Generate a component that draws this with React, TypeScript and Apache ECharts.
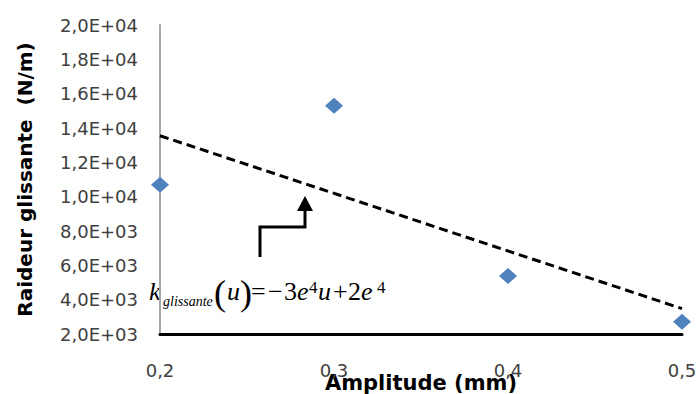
import React, { useEffect, useRef } from "react";
import * as echarts from "echarts";

// Data
const amplitudes = [0.2, 0.3, 0.4, 0.5];
const stiffness = [10700, 15300, 5380, 2720];
const trendX = [0.2, 0.5];
const trendY = [13550, 3480];

const yMin = 2000;
const yMax = 20000;
const yStep = 2000;
const xMin = 0.2;
const xMax = 0.5;
const xStep = 0.1;

const xTitle = "Amplitude (mm)";
const yTitle = "Raideur glissante  (N/m)";

function sci(v: number): string {
  const e = Math.floor(Math.log10(v) + 1e-9);
  const m = v / Math.pow(10, e);
  return m.toFixed(1).replace(".", ",") + "E+" + String(e).padStart(2, "0");
}

const SERIF = "'Liberation Serif', 'Times New Roman', serif";

export default function App() {
  const ref = useRef<HTMLDivElement>(null);
  useEffect(() => {
    if (!ref.current) return;
    const chart = echarts.init(ref.current, null, { renderer: "svg" });
    // formula pieces: x = left edge, b = baseline, s = font size, it = italic
    const formula = [
      { t: "k", x: 149, b: 300.7, s: 26, it: true },
      { t: "glissante", x: 163, b: 306.7, s: 14, it: true },
      { t: "(", x: 214, b: 305.5, s: 36, it: false },
      { t: "u", x: 227, b: 300.7, s: 26, it: true },
      { t: ")", x: 240, b: 305.5, s: 36, it: false },
      { t: "=", x: 251, b: 300.7, s: 26, it: false },
      { t: "\u2212", x: 268, b: 300.7, s: 26, it: false },
      { t: "3", x: 284, b: 300.7, s: 26, it: false },
      { t: "e", x: 297, b: 300.7, s: 26, it: true },
      { t: "4", x: 309, b: 293, s: 17, it: false },
      { t: "u", x: 318, b: 300.7, s: 26, it: true },
      { t: "+", x: 333, b: 300.7, s: 26, it: false },
      { t: "2", x: 348, b: 300.7, s: 26, it: false },
      { t: "e", x: 361, b: 300.7, s: 26, it: true },
      { t: "4", x: 377, b: 293, s: 17, it: false },
    ];
    chart.setOption({
      animation: false,
      backgroundColor: "#ffffff",
      grid: {
        left: 160,
        right: 15,
        top: 25,
        bottom: 60,
        outerBoundsMode: "none",
        containLabel: false,
      },
      xAxis: {
        type: "value",
        min: xMin,
        max: xMax,
        interval: xStep,
        name: xTitle,
        nameLocation: "middle",
        nameGap: 38,
        nameMoveOverlap: false,
        nameTextStyle: {
          fontFamily: "DejaVu Sans",
          fontWeight: "bold",
          fontSize: 21,
          color: "#000",
        },
        axisLine: { show: true, lineStyle: { color: "#000", width: 3 } },
        axisTick: { show: false },
        splitLine: { show: false },
        axisLabel: {
          margin: 27,
          fontFamily: "DejaVu Sans",
          fontSize: 18,
          color: "#404040",
          formatter: (v: number) => v.toFixed(1).replace(".", ","),
        },
      },
      yAxis: {
        type: "value",
        min: yMin,
        max: yMax,
        interval: yStep,
        name: yTitle,
        nameLocation: "middle",
        nameGap: 125,
        nameMoveOverlap: false,
        nameTextStyle: {
          fontFamily: "DejaVu Sans",
          fontWeight: "bold",
          fontSize: 20,
          color: "#000",
        },
        axisLine: { show: true, lineStyle: { color: "#a6a6a6", width: 2 } },
        axisTick: { show: false },
        splitLine: { show: false },
        axisLabel: {
          margin: 22,
          fontFamily: "DejaVu Sans",
          fontSize: 18,
          color: "#404040",
          formatter: (v: number) => sci(v),
        },
      },
      series: [
        {
          type: "line",
          data: trendX.map((x, i) => [x, trendY[i]]),
          symbol: "none",
          lineStyle: { color: "#000", width: 3, type: [9, 5] },
          z: 2,
        },
        {
          type: "scatter",
          data: amplitudes.map((x, i) => [x, stiffness[i]]),
          symbol: "diamond",
          symbolSize: [18, 16],
          itemStyle: { color: "#4f81bd", opacity: 1 },
          z: 3,
        },
      ],
      graphic: [
        {
          type: "polyline",
          shape: { points: [[260, 257], [260, 227], [305, 227], [305, 210]] },
          style: { stroke: "#000", lineWidth: 3, fill: null },
        },
        {
          type: "polygon",
          shape: { points: [[297, 211], [313, 211], [305, 196]] },
          style: { fill: "#000" },
        },
        ...formula.map((p) => ({
          type: "text",
          x: p.x,
          y: p.b - 0.3375 * p.s,
          style: {
            text: p.t,
            font: `${p.it ? "italic " : ""}${p.s}px ${SERIF}`,
            fill: "#000",
            textAlign: "left",
            textVerticalAlign: "middle",
            verticalAlign: "middle",
          },
        })),
      ],
    });
    return () => chart.dispose();
  }, []);
  return (
    <div
      ref={ref}
      style={{ position: "absolute", left: 0, top: 0, width: 697, height: 394 }}
    />
  );
}
